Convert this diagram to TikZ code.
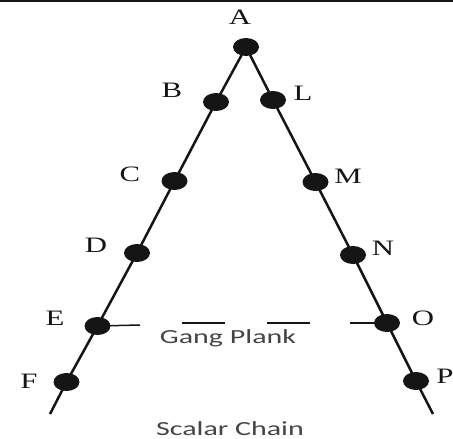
\documentclass[tikz,border=0pt]{standalone}
\usepackage{fontspec}
\setmainfont{Liberation Serif}
\newfontfamily\capfont{Carlito}
\usetikzlibrary{shapes.geometric,backgrounds}
\definecolor{ink}{HTML}{151515}
\definecolor{capgray}{HTML}{444444}
\tikzset{
  dot/.style={ellipse,fill=ink,minimum width=26pt,minimum height=18pt,inner sep=0pt},
  lbl/.style={font=\fontsize{22}{22}\selectfont,text=ink,xscale=1.4,inner sep=0pt},
  captext/.style={font=\capfont\fontsize{20}{20}\selectfont,text=capgray,xscale=1.5,inner sep=0pt},
  chain/.style={draw=ink,line width=2.5pt},
  plank/.style={draw=ink,line width=1.5pt}
}
\begin{document}
\begin{tikzpicture}[x=1pt,y=-1pt]
\useasboundingbox (0,0) rectangle (453,439);
\clip (0,0) rectangle (453,439);
\draw[line width=2.5pt,ink] (0,0.8) -- (453,0.8);
% dots
\node[dot] (A) at (246,47) {};
\node[dot] (B) at (216,102) {};
\node[dot] (C) at (174.5,181) {};
\node[dot] (D) at (137,253) {};
\node[dot] (E) at (97.5,326) {};
\node[dot] (F) at (66.5,382) {};
\node[dot] (L) at (273,100) {};
\node[dot] (M) at (315.5,182) {};
\node[dot] (N) at (353,255) {};
\node[dot] (O) at (387,323) {};
\node[dot] (P) at (416,381) {};
\coordinate (lend) at (50,414);
\coordinate (rend) at (433,414);
\coordinate (g1) at (140,325);
\coordinate (g2a) at (182,323);
\coordinate (g2b) at (225,323);
\coordinate (g3a) at (267,323);
\coordinate (g3b) at (310,323);
\coordinate (g4) at (350,323);
\begin{pgfonlayer}{background}
\draw[chain] (A.center) -- (B.center) -- (C.center) -- (D.center) -- (E.center) -- (F.center) -- (lend);
\draw[chain] (A.center) -- (L.center) -- (M.center) -- (N.center) -- (O.center) -- (P.center) -- (rend);
\draw[plank] (E.center) -- (g1);
\draw[plank] (g2a) -- (g2b);
\draw[plank] (g3a) -- (g3b);
\draw[plank] (g4) -- (O.center);
\end{pgfonlayer}
% labels
\node[lbl] (tA) at (240,17.5) {A};
\node[lbl] (tB) at (172,90) {B};
\node[lbl] (tL) at (303,93) {L};
\node[lbl] (tC) at (130,174) {C};
\node[lbl] (tM) at (348,176) {M};
\node[lbl] (tD) at (96,245) {D};
\node[lbl] (tN) at (383,248) {N};
\node[lbl] (tE) at (55,318) {E};
\node[lbl] (tO) at (423,318) {O};
\node[lbl] (tF) at (29,381) {F};
\node[lbl,anchor=west] (tP) at (436,376) {P};
\node[captext,anchor=base] (gp) at (228,343) {Gang Plank};
\node[captext,anchor=base] (sc) at (230,435) {Scalar Chain};
\end{tikzpicture}
\end{document}
